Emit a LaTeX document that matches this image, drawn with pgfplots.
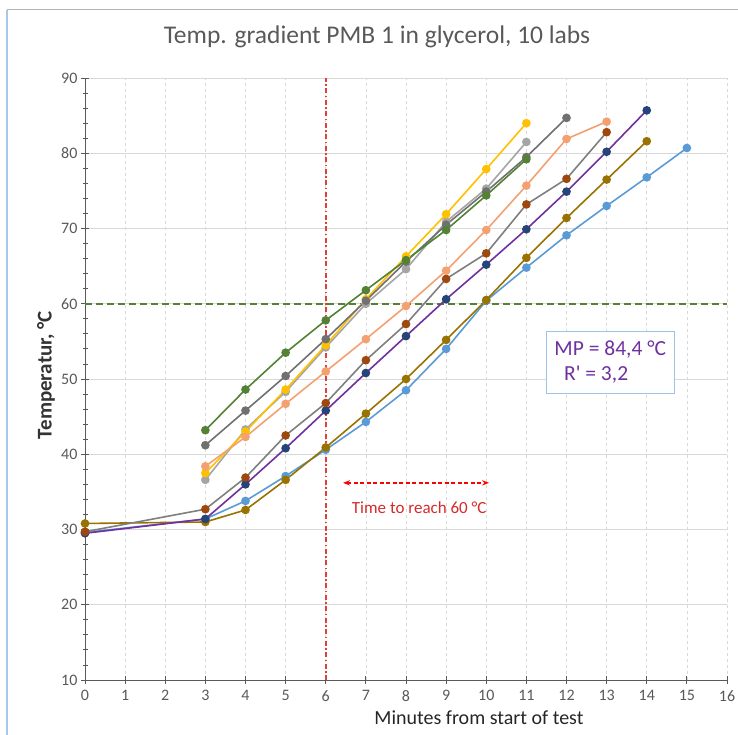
\documentclass[border=0pt]{standalone}
\usepackage{fontspec}
\setmainfont{Carlito}
\usepackage{pgfplots}
\pgfplotsset{compat=1.18}
\usetikzlibrary{arrows.meta}

\definecolor{txtgray}{HTML}{595959}
\definecolor{axisgray}{HTML}{595959}
\definecolor{gridgray}{HTML}{D9D9D9}
\definecolor{frameblue}{HTML}{A9C8E8}
\definecolor{cgreen}{HTML}{548235}
\definecolor{cdgray}{HTML}{707070}
\definecolor{cgold}{HTML}{FFC000}
\definecolor{clgray}{HTML}{A5A5A5}
\definecolor{corange}{HTML}{F4A070}
\definecolor{cbrown}{HTML}{9E480E}
\definecolor{cline}{HTML}{7F7F7F}
\definecolor{cnavy}{HTML}{264478}
\definecolor{cpurple}{HTML}{7030A0}
\definecolor{colive}{HTML}{997300}
\definecolor{cblue}{HTML}{5B9BD5}
\definecolor{cred}{HTML}{D42A2A}
\definecolor{vred}{HTML}{E0403A}
\definecolor{boxblue}{HTML}{9DC3E6}

\begin{document}
\begin{tikzpicture}[x=1pt,y=1pt]
\path[use as bounding box] (0,0) rectangle (738,-735);
\draw[gray!60, line width=1pt] (7,-10) -- (738,-10);
\draw[frameblue, line width=1.5pt] (7,-10) -- (7,-735);

\node[font=\fontsize{25.5}{30}\selectfont, text=txtgray] at (377,-37)
    {Temp. gradient PMB 1 in glycerol, 10 labs};
\node[font=\fontsize{20}{24}\selectfont, text=black!85] at (479,-718)
    {Minutes from start of test};
\node[font=\bfseries\fontsize{21}{24}\selectfont, text=black!80, rotate=90] at (46,-375)
    {Temperatur, °C};

\begin{axis}[
    at={(85pt,-680pt)}, anchor=south west,
    scale only axis, width=642pt, height=602pt,
    xmin=0, xmax=16, ymin=10, ymax=90,
    axis x line=bottom, axis y line=left,
    axis line style={-, draw=axisgray, line width=0.9pt},
    xtick={0,1,...,16}, ytick={10,20,...,90},
    minor y tick num=4,
    tick align=center,
    major tick length=8pt, minor tick length=5pt,
    tick style={draw=axisgray, line width=0.9pt},
    xmajorgrids, ymajorgrids,
    x grid style={dashed, draw=gridgray, line width=0.7pt},
    y grid style={solid, draw=gridgray, line width=0.9pt},
    /pgf/number format/assume math mode=true,
    tick label style={font=\fontsize{16}{18}\selectfont, text=txtgray},
    xticklabel style={yshift=-3pt},
    clip=false,
]

% reference lines
\addplot[vred, line width=2pt, dash pattern=on 5pt off 2.5pt on 1.5pt off 2.5pt]
    table {
x y
6 10
6 90
};
\addplot[color=cgreen, line width=1.5pt, dash pattern=on 7pt off 4pt]
    coordinates {(0,60) (16,60)};

% labs
\addplot[cblue, line width=1.6pt, mark=*, mark size=3.5pt, mark options={solid, fill=cblue, draw=cblue}]
    coordinates {(0,29.6) (3,31.4) (4,33.8) (5,37.1) (6,40.6) (7,44.3) (8,48.5) (9,54.0)
                 (10,60.4) (11,64.8) (12,69.1) (13,73.0) (14,76.8) (15,80.7)};
\addplot[colive, line width=1.6pt, mark=*, mark size=3.5pt, mark options={solid, fill=colive, draw=colive}]
    coordinates {(0,30.8) (3,31.0) (4,32.6) (5,36.6) (6,40.9) (7,45.4) (8,50.0) (9,55.2)
                 (10,60.5) (11,66.1) (12,71.4) (13,76.5) (14,81.6)};
\addplot[cpurple, line width=1.6pt, mark=*, mark size=3.5pt, mark options={solid, fill=cnavy, draw=cnavy}]
    coordinates {(0,29.5) (3,31.4) (4,36.0) (5,40.8) (6,45.8) (7,50.8) (8,55.7) (9,60.6)
                 (10,65.2) (11,69.9) (12,74.9) (13,80.2) (14,85.7)};
\addplot[cline, line width=1.6pt, mark=*, mark size=3.5pt, mark options={solid, fill=cbrown, draw=cbrown}]
    coordinates {(0,29.7) (3,32.7) (4,36.9) (5,42.5) (6,46.8) (7,52.5) (8,57.3) (9,63.3)
                 (10,66.7) (11,73.2) (12,76.6) (13,82.8)};
\addplot[clgray, line width=1.6pt, mark=*, mark size=3.5pt, mark options={solid, fill=clgray, draw=clgray}]
    coordinates {(3,36.6) (4,43.3) (5,48.3) (6,54.2) (7,60.0) (8,64.6) (9,70.9) (10,75.3) (11,81.5)};
\addplot[cgold, line width=1.6pt, mark=*, mark size=3.5pt, mark options={solid, fill=cgold, draw=cgold}]
    coordinates {(3,37.5) (4,43.0) (5,48.6) (6,54.5) (7,60.6) (8,66.3) (9,71.9) (10,77.9) (11,84.0)};
\addplot[corange, line width=1.6pt, mark=*, mark size=3.5pt, mark options={solid, fill=corange, draw=corange}]
    coordinates {(3,38.4) (4,42.3) (5,46.7) (6,51.0) (7,55.3) (8,59.7) (9,64.4) (10,69.8)
                 (11,75.7) (12,81.9) (13,84.2)};
\addplot[cdgray, line width=1.6pt, mark=*, mark size=3.5pt, mark options={solid, fill=cdgray, draw=cdgray}]
    coordinates {(3,41.2) (4,45.8) (5,50.4) (6,55.3) (7,60.4) (8,65.6) (9,70.5) (10,74.9)
                 (11,79.5) (12,84.7)};
\addplot[cgreen, line width=1.6pt, mark=*, mark size=3.5pt, mark options={solid, fill=cgreen, draw=cgreen}]
    coordinates {(3,43.2) (4,48.6) (5,53.5) (6,57.8) (7,61.8) (8,65.8) (9,69.8) (10,74.4) (11,79.2)};

% annotations
\draw[{Stealth[length=7pt]}-{Stealth[length=7pt]}, red, line width=1.3pt, dash pattern=on 4pt off 2.5pt]
    (axis cs:6.43,36.2) -- (axis cs:10.07,36.2);
\node[font=\fontsize{17}{20}\selectfont, text=cred] at (axis cs:8.33,32.9) {Time to reach 60 °C};
\node[draw=boxblue, line width=1pt, fill=white, text=cpurple, align=left,
      minimum width=128pt, minimum height=62pt, inner sep=4pt, font=\fontsize{21.5}{25}\selectfont]
    at (axis cs:13.09,52.26) {MP = 84,4 °C\\\hspace*{0.45em}R\textquotesingle{} = 3,2};

\end{axis}
\end{tikzpicture}
\end{document}
